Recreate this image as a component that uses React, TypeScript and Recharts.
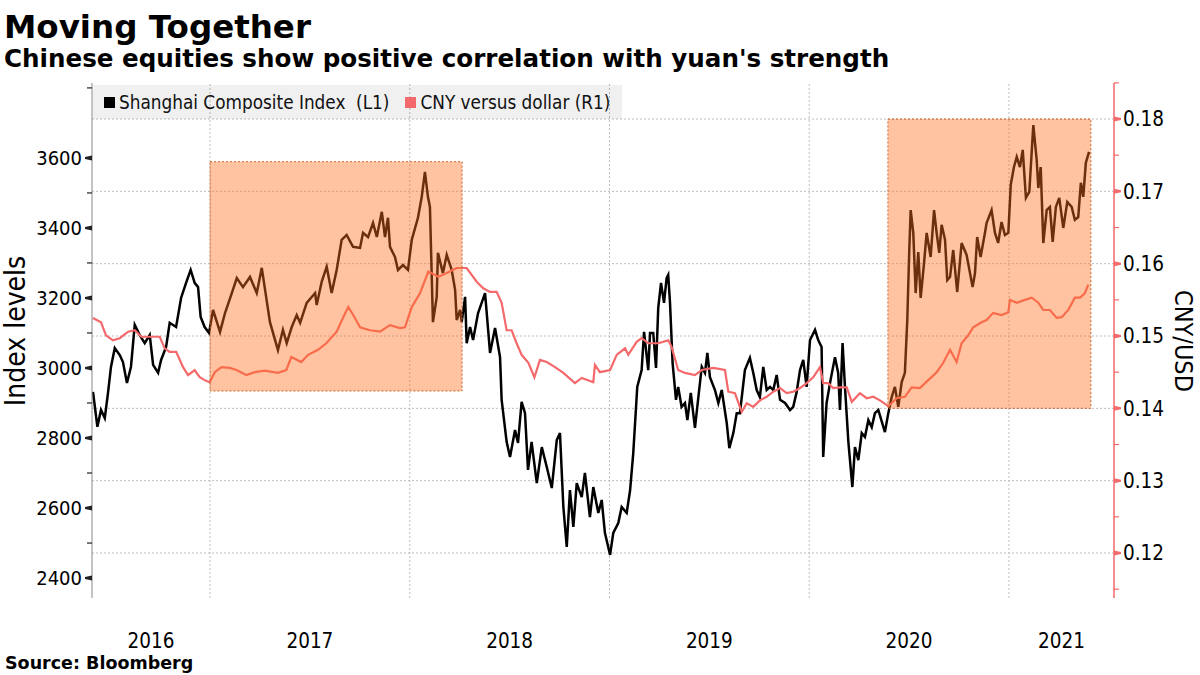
import React from 'react';
import { LineChart, Line, XAxis, YAxis, ReferenceArea, ReferenceLine } from 'recharts';

const FONT = "'DejaVu Sans Condensed', 'DejaVu Sans', sans-serif";
const BOLD_FONT = "'DejaVu Sans', sans-serif";
const CNY_COLOR = '#F4696B';

// dates as decimal years
const shanghaiDates = [
  2016.414, 2016.436, 2016.454, 2016.473, 2016.489, 2016.504, 2016.523, 2016.548, 2016.564, 2016.584,
  2016.604, 2016.623, 2016.648, 2016.673, 2016.698, 2016.715, 2016.74, 2016.755, 2016.78, 2016.798,
  2016.83, 2016.855, 2016.88, 2016.903, 2016.923, 2016.94, 2016.953, 2016.973, 2016.995,
  2017.015, 2017.05, 2017.075, 2017.109, 2017.134, 2017.165, 2017.2, 2017.234, 2017.259, 2017.3,
  2017.34, 2017.365, 2017.384, 2017.409, 2017.434, 2017.451, 2017.484, 2017.526, 2017.534, 2017.559,
  2017.584, 2017.609, 2017.634, 2017.659, 2017.684, 2017.716, 2017.751, 2017.766, 2017.791, 2017.816,
  2017.835, 2017.86, 2017.876, 2017.891, 2017.901, 2017.926, 2017.941, 2017.966, 2017.991,
  2018.01, 2018.041, 2018.06, 2018.076, 2018.091, 2018.101, 2018.116, 2018.135, 2018.141, 2018.166,
  2018.185, 2018.21, 2018.227, 2018.235, 2018.252, 2018.26, 2018.277, 2018.285, 2018.302, 2018.317,
  2018.342, 2018.36, 2018.377, 2018.402, 2018.427, 2018.452, 2018.46, 2018.485, 2018.502, 2018.527,
  2018.542, 2018.56, 2018.577, 2018.592, 2018.61, 2018.636, 2018.661, 2018.686, 2018.711, 2018.736,
  2018.752, 2018.769, 2018.786, 2018.802, 2018.819, 2018.836, 2018.861, 2018.877, 2018.902, 2018.919,
  2018.944, 2018.961, 2018.977,
  2019.003, 2019.019, 2019.044, 2019.061, 2019.086, 2019.103, 2019.119, 2019.139, 2019.161, 2019.173,
  2019.194, 2019.203, 2019.219, 2019.233, 2019.244, 2019.258, 2019.273, 2019.286, 2019.294, 2019.303,
  2019.316, 2019.333, 2019.344, 2019.361, 2019.378, 2019.39, 2019.407, 2019.428, 2019.445, 2019.462,
  2019.478, 2019.49, 2019.503, 2019.528, 2019.545, 2019.562, 2019.587, 2019.6, 2019.62, 2019.637,
  2019.653, 2019.678, 2019.703, 2019.72, 2019.737, 2019.753, 2019.77, 2019.787, 2019.804, 2019.82,
  2019.837, 2019.854, 2019.879, 2019.904, 2019.92, 2019.937, 2019.954, 2019.97, 2019.987,
  2020.004, 2020.029, 2020.045, 2020.062, 2020.07, 2020.087, 2020.107, 2020.129, 2020.145, 2020.154,
  2020.167, 2020.179, 2020.196, 2020.216, 2020.229, 2020.246, 2020.263, 2020.279, 2020.296, 2020.313,
  2020.329, 2020.346, 2020.379, 2020.396, 2020.413, 2020.429, 2020.446, 2020.463, 2020.479, 2020.491,
  2020.501, 2020.508, 2020.521, 2020.533, 2020.546, 2020.558, 2020.574, 2020.588, 2020.608, 2020.625,
  2020.638, 2020.651, 2020.663, 2020.68, 2020.691, 2020.705, 2020.721, 2020.741, 2020.763, 2020.788,
  2020.805, 2020.818, 2020.83, 2020.841, 2020.858, 2020.88, 2020.888, 2020.913, 2020.93, 2020.946,
  2020.963, 2020.98, 2020.997,
  2021.009, 2021.025, 2021.039, 2021.055, 2021.069, 2021.085, 2021.102, 2021.122, 2021.139, 2021.147,
  2021.159, 2021.172, 2021.189, 2021.205, 2021.219, 2021.235, 2021.252, 2021.272, 2021.292, 2021.314,
  2021.33, 2021.347, 2021.36, 2021.372, 2021.385, 2021.401,
];

const shanghaiValues = [
  2932, 2832, 2880, 2857, 2928, 3003, 3057, 3037, 3017, 2957,
  3003, 3123, 3094, 3071, 3094, 3009, 2986, 3023, 3060, 3129,
  3117, 3200, 3243, 3280, 3243, 3231, 3146, 3117, 3100,
  3166, 3103, 3157, 3214, 3257, 3231, 3260, 3214, 3286, 3131,
  3051, 3109, 3071, 3117, 3151, 3129, 3186, 3214, 3180, 3246,
  3289, 3214, 3280, 3366, 3380, 3346, 3343, 3386, 3374, 3414,
  3374, 3446, 3374, 3429, 3346, 3317, 3280, 3294, 3280,
  3366, 3429, 3489, 3560, 3489, 3460, 3131, 3203, 3329, 3271,
  3323, 3280, 3223, 3137, 3166, 3131, 3203, 3071, 3117, 3080,
  3157, 3186, 3214, 3043, 3114, 3031, 2909, 2789, 2746, 2823,
  2786, 2903, 2871, 2709, 2789, 2671, 2774, 2717, 2657, 2794,
  2814, 2603, 2489, 2651, 2546, 2671, 2631, 2700, 2574, 2660,
  2586, 2623, 2529,
  2466, 2529, 2557, 2603, 2586, 2650, 2757, 2946, 2994, 3103,
  2994, 3100, 3100, 3000, 3171, 3243, 3186, 3257, 3266, 3186,
  3014, 2909, 2946, 2889, 2900, 2851, 2929, 2829, 2917, 3003,
  2986, 3043, 2974, 2937, 2900, 2937, 2843, 2771, 2814, 2871,
  2871, 2994, 3029, 2986, 2937, 2917, 3003, 2937, 2946, 2937,
  2980, 2909, 2900, 2880, 2889, 2931, 2994, 3023, 2946,
  3080, 3109, 3080, 3060, 2746, 2900, 2966, 3031, 2986, 2880,
  3071, 2946, 2789, 2660, 2774, 2737, 2814, 2803, 2851, 2831,
  2871, 2880, 2817, 2871, 2917, 2946, 2889, 2960, 2986, 3137,
  3337, 3451, 3386, 3214, 3331, 3200, 3294, 3386, 3317, 3451,
  3386, 3329, 3409, 3366, 3251, 3260, 3337, 3217, 3357, 3323,
  3271, 3231, 3271, 3374, 3317, 3386, 3414, 3451, 3386, 3357,
  3417, 3380, 3386,
  3523, 3574, 3603, 3574, 3623, 3486, 3503, 3694, 3594, 3514,
  3574, 3357, 3451, 3460, 3360, 3460, 3486, 3400, 3474, 3460,
  3423, 3431, 3529, 3489, 3586, 3617,
];

const cnyDates = [
  2016.414, 2016.454, 2016.479, 2016.514, 2016.548, 2016.59, 2016.623, 2016.656, 2016.706, 2016.748,
  2016.773, 2016.798, 2016.831, 2016.865, 2016.89, 2016.923, 2016.948, 2016.973, 2016.998,
  2017.024, 2017.057, 2017.099, 2017.132, 2017.182, 2017.224, 2017.274, 2017.34, 2017.382, 2017.407,
  2017.457, 2017.491, 2017.541, 2017.582, 2017.634, 2017.667, 2017.692, 2017.717, 2017.751, 2017.801,
  2017.851, 2017.901, 2017.951, 2017.976,
  2018.01, 2018.051, 2018.093, 2018.143, 2018.185, 2018.235, 2018.285, 2018.335, 2018.368, 2018.402,
  2018.435, 2018.46, 2018.485, 2018.51, 2018.535, 2018.56, 2018.594, 2018.624, 2018.652, 2018.686,
  2018.727, 2018.769, 2018.827, 2018.861, 2018.919, 2018.927, 2018.952,
  2019.003, 2019.036, 2019.078, 2019.094, 2019.136, 2019.161, 2019.194, 2019.244, 2019.294, 2019.311,
  2019.344, 2019.378, 2019.428, 2019.462, 2019.52, 2019.578, 2019.595, 2019.628, 2019.662, 2019.687,
  2019.72, 2019.753, 2019.787, 2019.82, 2019.854, 2019.887, 2019.92, 2019.954, 2019.987,
  2020.02, 2020.054, 2020.07, 2020.095, 2020.12, 2020.154, 2020.188, 2020.213, 2020.254, 2020.288,
  2020.321, 2020.354, 2020.396, 2020.438, 2020.479, 2020.513, 2020.554, 2020.596, 2020.638, 2020.671,
  2020.705, 2020.738, 2020.763, 2020.796, 2020.821, 2020.863, 2020.888, 2020.921, 2020.963, 2020.997,
  2021.005, 2021.039, 2021.08, 2021.114, 2021.147, 2021.172, 2021.205, 2021.239, 2021.264, 2021.297,
  2021.33, 2021.356, 2021.38, 2021.397,
];

const cnyValues = [
  0.1525, 0.1519, 0.1501, 0.1494, 0.1497, 0.1506, 0.1508, 0.1499, 0.1499, 0.1499,
  0.1483, 0.1478, 0.1478, 0.1457, 0.1446, 0.1453, 0.1443, 0.1439, 0.1436,
  0.145, 0.1457, 0.1456, 0.1453, 0.1446, 0.145, 0.1452, 0.1449, 0.1453, 0.1471,
  0.1464, 0.1474, 0.1481, 0.149, 0.1506, 0.1526, 0.154, 0.1529, 0.1512, 0.1508,
  0.1506, 0.1515, 0.1511, 0.1512,
  0.154, 0.1559, 0.1589, 0.1582, 0.1587, 0.1594, 0.1594, 0.1575, 0.1566, 0.1561,
  0.1561, 0.1546, 0.1508, 0.1508, 0.149, 0.1474, 0.1463, 0.1443, 0.1467, 0.1464,
  0.1457, 0.1449, 0.1435, 0.1442, 0.1436, 0.146, 0.145,
  0.1453, 0.1474, 0.1483, 0.1474, 0.1492, 0.1497, 0.149, 0.149, 0.1494, 0.1485,
  0.1453, 0.1449, 0.1446, 0.1453, 0.1456, 0.1453, 0.1423, 0.1421, 0.1395, 0.1407,
  0.1402, 0.1411, 0.1416, 0.1423, 0.1428, 0.1421, 0.1423, 0.1428, 0.1435,
  0.1443, 0.1457, 0.1435, 0.1435, 0.1428, 0.1429, 0.1429, 0.1409, 0.1421, 0.1414,
  0.1416, 0.1411, 0.1403, 0.1414, 0.1416, 0.1429, 0.1428, 0.1439, 0.145, 0.1463,
  0.1481, 0.1464, 0.149, 0.1501, 0.1512, 0.1519, 0.1522, 0.1532, 0.1529, 0.1533,
  0.155, 0.1546, 0.155, 0.1553, 0.1546, 0.1536, 0.1536, 0.1525, 0.1526, 0.1536,
  0.1553, 0.1553, 0.1559, 0.1571,
];

const years = [2016, 2017, 2018, 2019, 2020, 2021];
const leftTicks = [2400, 2500, 2600, 2700, 2800, 2900, 3000, 3100, 3200, 3300, 3400, 3500, 3600, 3800];
const leftLabels = [2400, 2600, 2800, 3000, 3200, 3400, 3600];
const rightTicks = [0.115, 0.12, 0.125, 0.13, 0.135, 0.14, 0.145, 0.15, 0.155, 0.16, 0.165, 0.17, 0.175, 0.18, 0.185];
const rightLabels = [0.12, 0.13, 0.14, 0.15, 0.16, 0.17, 0.18];

// shaded periods, vertical extent read on the CNY axis
const highlights = [
  { from: 2017.0, to: 2018.262, low: 0.1424, high: 0.1741 },
  { from: 2020.394, to: 2021.41, low: 0.14, high: 0.18 },
];

const xDomain: [number, number] = [2016.409, 2021.526];
const leftDomain: [number, number] = [2343, 3814];
const rightDomain: [number, number] = [0.11378, 0.18498];

const shanghaiData = shanghaiDates.map((t, i) => ({ t, v: shanghaiValues[i] }));
const cnyData = cnyDates.map((t, i) => ({ t, v: cnyValues[i] }));

// year labels sit in the middle of the visible part of each year
const yearTicks = years.map(
  (y) => (Math.max(y, xDomain[0]) + Math.min(y + 1, xDomain[1])) / 2
);

const LeftTick = (props: any) => {
  const { x, y, payload } = props;
  const major = leftLabels.includes(payload.value);
  return (
    <g>
      {major ? (
        <polygon
          points={`${x - 7},${y - 1} ${x},${y - 2.5} ${x},${y + 2.5} ${x - 7},${y + 1}`}
          fill="#222"
        />
      ) : (
        <line x1={x - 5} x2={x} y1={y} y2={y} stroke="#222" strokeWidth={1.2} />
      )}
      {major && (
        <text x={x - 10} y={y} dy="0.36em" textAnchor="end" fontSize={20} fontFamily={FONT} fill="#000">
          {payload.value}
        </text>
      )}
    </g>
  );
};

const RightTick = (props: any) => {
  const { x, y, payload } = props;
  const major = rightLabels.some((v) => Math.abs(v - payload.value) < 1e-6);
  return (
    <g>
      {major ? (
        <polygon
          points={`${x + 7},${y - 1} ${x},${y - 2.5} ${x},${y + 2.5} ${x + 7},${y + 1}`}
          fill={CNY_COLOR}
        />
      ) : (
        <line x1={x} x2={x + 5} y1={y} y2={y} stroke={CNY_COLOR} strokeWidth={1.2} />
      )}
      {major && (
        <text x={x + 9} y={y} dy="0.36em" textAnchor="start" fontSize={20.5} fontFamily={FONT} fill="#000">
          {payload.value.toFixed(2)}
        </text>
      )}
    </g>
  );
};

const LegendItem = ({ color, label }: { color: string; label: string }) => (
  <div style={{ display: 'flex', alignItems: 'center', marginRight: 16 }}>
    <div style={{ width: 11, height: 11, background: color, marginRight: 4 }} />
    <span style={{ whiteSpace: 'pre' }}>{label}</span>
  </div>
);

export default function App() {
  return (
    <div style={{ position: 'absolute', left: 0, top: 0, width: 1200, height: 675, background: '#fff' }}>
      <LineChart
        width={1200}
        height={675}
        margin={{ top: 83, right: 26, bottom: 27, left: 32 }}
      >
        <XAxis
          xAxisId={0}
          type="number"
          dataKey="t"
          domain={xDomain}
          allowDataOverflow
          ticks={yearTicks}
          tickFormatter={(v: number) => String(Math.floor(v))}
          axisLine={false}
          tickLine={false}
          tickSize={0}
          tickMargin={35}
          height={50}
          interval={0}
          tick={{ fontSize: 20.5, fontFamily: FONT, fill: '#000' }}
        />
        <YAxis
          yAxisId="left"
          orientation="left"
          type="number"
          domain={leftDomain}
          allowDataOverflow
          ticks={leftTicks}
          interval={0}
          width={60}
          tickSize={0}
          tickMargin={0}
          tickLine={false}
          axisLine={{ stroke: '#888' }}
          tick={<LeftTick />}
        />
        <YAxis
          yAxisId="right"
          orientation="right"
          type="number"
          domain={rightDomain}
          allowDataOverflow
          ticks={rightTicks}
          interval={0}
          width={60}
          tickSize={0}
          tickMargin={0}
          tickLine={false}
          axisLine={{ stroke: CNY_COLOR, strokeWidth: 1.5 }}
          tick={<RightTick />}
        />

        {rightLabels.map((v) => (
          <ReferenceLine key={`h${v}`} yAxisId="right" y={v} stroke="#bdbdbd" strokeDasharray="2 2" />
        ))}
        {years.slice(1).map((y) => (
          <ReferenceLine key={`v${y}`} yAxisId="left" x={y} stroke="#bdbdbd" strokeDasharray="2 2" />
        ))}

        <Line
          data={shanghaiData}
          dataKey="v"
          yAxisId="left"
          type="linear"
          stroke="#000"
          strokeWidth={2.5}
          dot={false}
          isAnimationActive={false}
        />
        <Line
          data={cnyData}
          dataKey="v"
          yAxisId="right"
          type="linear"
          stroke={CNY_COLOR}
          strokeWidth={2.2}
          dot={false}
          isAnimationActive={false}
        />

        {highlights.map((h) => (
          <ReferenceArea
            key={h.from}
            yAxisId="right"
            x1={h.from}
            x2={h.to}
            y1={h.low}
            y2={h.high}
            fill="#FF7020"
            fillOpacity={0.42}
            stroke="#C8642A"
            strokeDasharray="2 2"
            strokeWidth={1}
            zIndex={900}
          />
        ))}
      </LineChart>

      <div
        style={{
          position: 'absolute',
          left: 93,
          top: 85,
          width: 529,
          height: 34,
          background: 'rgba(0,0,0,0.06)',
          display: 'flex',
          alignItems: 'center',
          paddingLeft: 11,
          boxSizing: 'border-box',
          fontFamily: FONT,
          fontSize: 18.8,
          color: '#111',
        }}
      >
        <LegendItem color="#000" label="Shanghai Composite Index  (L1)" />
        <LegendItem color={CNY_COLOR} label="CNY versus dollar (R1)" />
      </div>

      <svg
        width={1200}
        height={675}
        style={{ position: 'absolute', left: 0, top: 0, pointerEvents: 'none' }}
      >
        <text x={4} y={38} fontFamily={BOLD_FONT} fontWeight="bold" fontSize={32.5} fill="#000">
          Moving Together
        </text>
        <text x={4} y={67} fontFamily={BOLD_FONT} fontWeight="bold" fontSize={24.6} fill="#000">
          Chinese equities show positive correlation with yuan's strength
        </text>
        <text
          transform="translate(25,331) rotate(-90)"
          textAnchor="middle"
          fontFamily={FONT}
          fontSize={28}
          fill="#000"
        >
          Index levels
        </text>
        <text
          transform="translate(1175,341) rotate(90)"
          textAnchor="middle"
          fontFamily={FONT}
          fontSize={25}
          fill="#000"
        >
          CNY/USD
        </text>
        <text x={5} y={669} fontFamily={BOLD_FONT} fontWeight="bold" fontSize={17.5} fill="#000">
          Source:  Bloomberg
        </text>
      </svg>
    </div>
  );
}
